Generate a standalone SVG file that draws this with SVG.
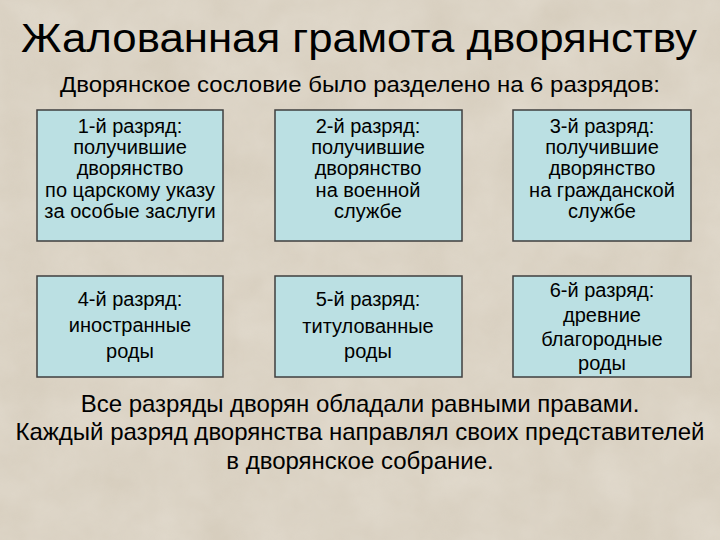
<svg xmlns="http://www.w3.org/2000/svg" width="720" height="540" viewBox="0 0 720 540">
<defs>
<filter id="stone" x="0" y="0" width="100%" height="100%">
<feTurbulence type="fractalNoise" baseFrequency="0.02" numOctaves="4" seed="3" result="n"/>
<feColorMatrix in="n" type="matrix" values="0 0 0 0 0.86  0 0 0 0 0.82  0 0 0 0 0.75  -0.6 -0.6 0 0 1.0" result="c"/>
</filter>
<style>
.box{fill:#bbe0e3;stroke:#3f3f3f;stroke-width:1.5}
.t{font-family:"Liberation Sans",Arial,sans-serif;fill:#000;text-anchor:middle}
.bt{font-size:20px}
.h{font-size:40px}
.s{font-size:22px}
.f{font-size:24px}
</style>
</defs>
<rect width="720" height="540" fill="#d6cdbd"/>
<rect width="720" height="540" fill="#e4dccd" filter="url(#stone)" opacity="0.55"/>
<text class="t h" x="359" y="52" textLength="676" lengthAdjust="spacingAndGlyphs">Жалованная грамота дворянству</text>
<text class="t s" x="360" y="92" textLength="600" lengthAdjust="spacingAndGlyphs">Дворянское сословие было разделено на 6 разрядов:</text>
<g id="node1">
<rect class="box" x="37" y="110" width="186" height="131"/>
<text class="t bt"><tspan x="130" y="133">1-й разряд:</tspan><tspan x="130" y="154">получившие</tspan><tspan x="130" y="175">дворянство</tspan><tspan x="130" y="197">по царскому указу</tspan><tspan x="130" y="218">за особые заслуги</tspan></text>
</g>
<g id="node2">
<rect class="box" x="275" y="110" width="187" height="131"/>
<text class="t bt"><tspan x="368" y="133">2-й разряд:</tspan><tspan x="368" y="154">получившие</tspan><tspan x="368" y="175">дворянство</tspan><tspan x="368" y="197">на военной</tspan><tspan x="368" y="218">службе</tspan></text>
</g>
<g id="node3">
<rect class="box" x="513" y="110" width="178" height="131"/>
<text class="t bt"><tspan x="602" y="133">3-й разряд:</tspan><tspan x="602" y="154">получившие</tspan><tspan x="602" y="175">дворянство</tspan><tspan x="602" y="197">на гражданской</tspan><tspan x="602" y="218">службе</tspan></text>
</g>
<g id="node4">
<rect class="box" x="37" y="276" width="186" height="101"/>
<text class="t bt"><tspan x="130" y="306">4-й разряд:</tspan><tspan x="130" y="332">иностранные</tspan><tspan x="130" y="358">роды</tspan></text>
</g>
<g id="node5">
<rect class="box" x="275" y="276" width="187" height="101"/>
<text class="t bt"><tspan x="368" y="306">5-й разряд:</tspan><tspan x="368" y="333">титулованные</tspan><tspan x="368" y="358">роды</tspan></text>
</g>
<g id="node6">
<rect class="box" x="513" y="276" width="178" height="101"/>
<text class="t bt"><tspan x="602" y="297">6-й разряд:</tspan><tspan x="602" y="322">древние</tspan><tspan x="602" y="346">благородные</tspan><tspan x="602" y="370">роды</tspan></text>
</g>
<g id="connectors"/>
<text class="t f"><tspan x="360" y="412">Все разряды дворян обладали равными правами.</tspan><tspan x="360" y="440">Каждый разряд дворянства направлял своих представителей</tspan><tspan x="360" y="469">в дворянское собрание.</tspan></text>
</svg>
